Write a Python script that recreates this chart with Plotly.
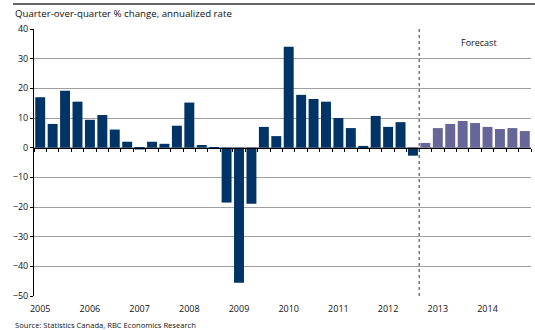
import plotly.graph_objects as go

years = list(range(2005, 2015))
quarters = [f"{y}Q{q}" for y in years for q in range(1, 5)]
values = [17.0, 8.0, 19.2, 15.5, 9.4, 11.0, 6.1, 2.0,
          -0.6, 2.0, 1.3, 7.4, 15.2, 0.9, -0.3, -18.5,
          -45.5, -18.9, 7.0, 3.9, 34.0, 17.8, 16.4, 15.5,
          10.0, 6.6, 0.6, 10.7, 7.0, 8.6, -2.7, 1.6,
          6.6, 8.0, 9.0, 8.3, 7.0, 6.3, 6.6, 5.6]
n_actual = 31  # 2005Q1 .. 2012Q3 are actual, rest forecast
year_ticks = [f"{y}Q1" for y in years]
year_labels = [str(y) for y in years]

DARK = "#003366"
LIGHT = "#666699"
FONT = "Open Sans"
TXT = "#111111"

fig = go.Figure()
fig.add_trace(go.Bar(x=quarters[:n_actual], y=values[:n_actual],
                     marker=dict(color=DARK, line=dict(width=0)),
                     showlegend=False, hoverinfo="x+y"))
fig.add_trace(go.Bar(x=quarters[n_actual:], y=values[n_actual:],
                     marker=dict(color=LIGHT, line=dict(width=0)),
                     showlegend=False, hoverinfo="x+y"))
# invisible trace to anchor the tick axis drawn at zero
fig.add_trace(go.Scatter(x=[-0.5, len(quarters) - 0.5], y=[0, 0], mode="lines",
                         line=dict(width=0), xaxis="x2", showlegend=False,
                         hoverinfo="skip"))

ymin, ymax = -50, 40
zero_pos = (0 - ymin) / (ymax - ymin)

fig.update_layout(
    width=535, height=330,
    margin=dict(l=34, r=4, t=29, b=34),
    paper_bgcolor="white", plot_bgcolor="white",
    bargap=0.2, barmode="overlay",
    font=dict(family=FONT, size=9, color=TXT),
    xaxis=dict(type="category", categoryorder="array", categoryarray=quarters,
               range=[-0.5, len(quarters) - 0.5],
               tickmode="array", tickvals=year_ticks, ticktext=year_labels,
               ticks="", showgrid=False, showline=False, zeroline=False,
               tickfont=dict(family=FONT, size=9, color=TXT), ticklabelstandoff=6),
    xaxis2=dict(overlaying="x", anchor="free", position=zero_pos, side="bottom",
                range=[-0.5, len(quarters) - 0.5],
                tickmode="array", tickvals=[i - 0.5 for i in range(len(quarters) + 1)],
                ticks="outside", ticklen=3, tickcolor="#000000", tickwidth=1,
                showticklabels=False, showgrid=False, zeroline=False,
                showline=True, linecolor="#000000", linewidth=1),
    yaxis=dict(range=[ymin, ymax], dtick=10, tick0=0,
               showgrid=True, gridcolor="#a0a0a0", gridwidth=1,
               showline=True, linecolor="#000000", linewidth=1,
               ticks="outside", ticklen=3, tickcolor="#000000",
               zeroline=False, tickfont=dict(family=FONT, size=9, color=TXT)),
)

# forecast divider
fig.add_shape(type="line", xref="x2", yref="y",
              x0=n_actual - 0.5, x1=n_actual - 0.5, y0=ymin, y1=ymax,
              line=dict(color="#555555", width=1.2, dash="dot"))

# top rule
fig.add_shape(type="line", xref="paper", yref="paper",
              x0=(13 - 34) / 497, x1=(535 - 34) / 497,
              y0=(296 - 4) / 267, y1=(296 - 4) / 267,
              line=dict(color="#333333", width=1.5))

fig.add_annotation(text="Quarter-over-quarter % change, annualized rate",
                   xref="paper", yref="paper", x=(13 - 34) / 497, y=(296 - 13) / 267,
                   xanchor="left", yanchor="middle", showarrow=False,
                   font=dict(family=FONT, size=9.7, color=TXT))
fig.add_annotation(text="Forecast", xref="x2", yref="y", x=35.3, y=35.3,
                   xanchor="center", yanchor="middle", showarrow=False,
                   font=dict(family=FONT, size=9, color=TXT))
fig.add_annotation(text="Source: Statistics Canada, RBC Economics Research",
                   xref="paper", yref="paper", x=(13 - 34) / 497, y=(296 - 324.5) / 267,
                   xanchor="left", yanchor="middle", showarrow=False,
                   font=dict(family=FONT, size=7.6, color=TXT))

fig.write_html("out.html")
